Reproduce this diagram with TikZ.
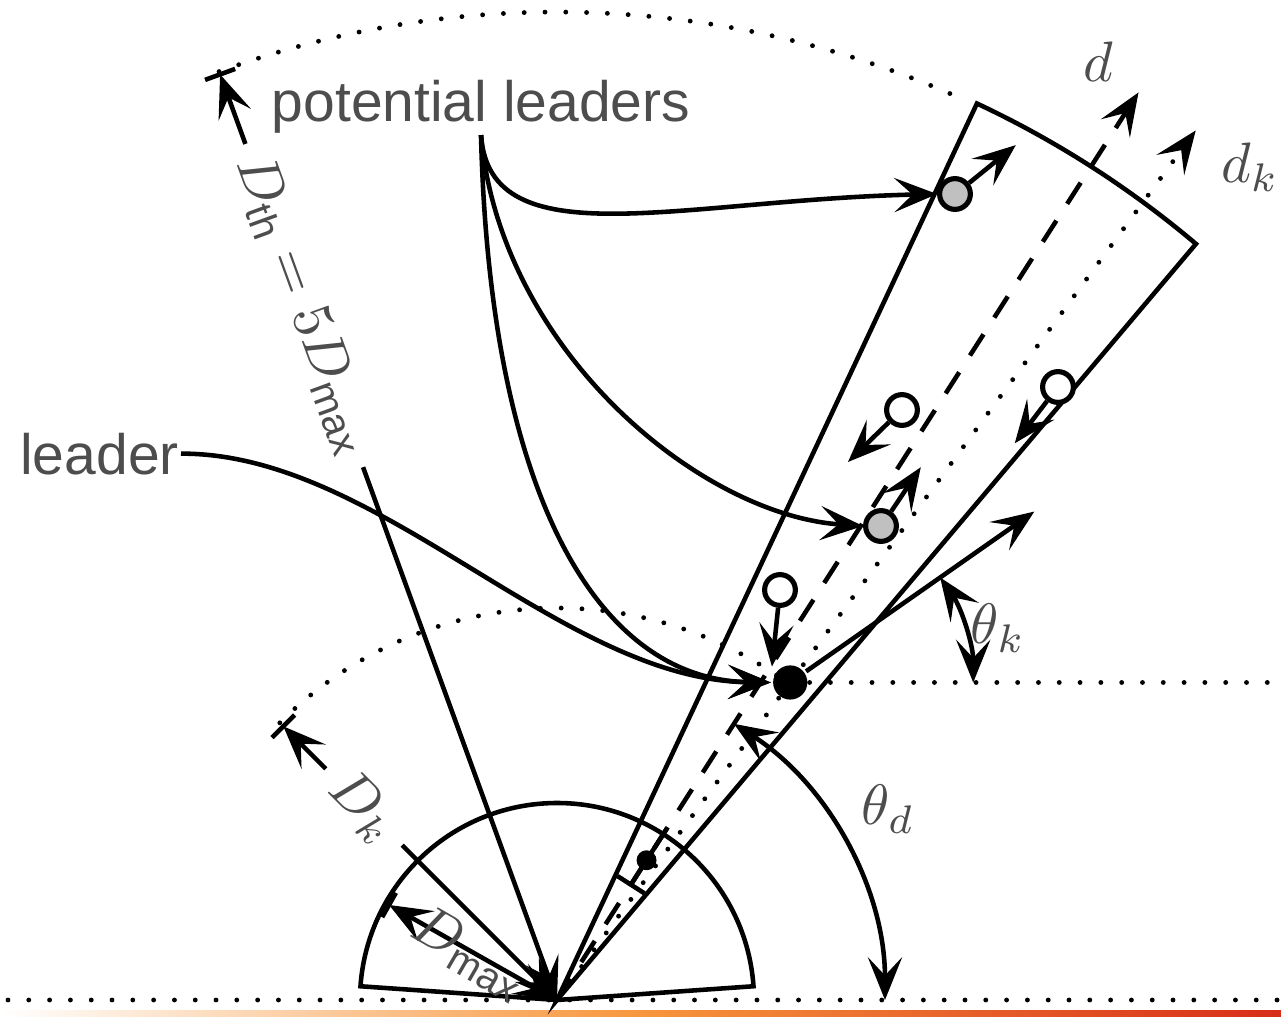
\documentclass[tikz,border=0pt]{standalone}
\usepackage{amsmath}
\usepackage{fontspec}
\setsansfont{Liberation Sans}
\usetikzlibrary{arrows.meta,calc}
\definecolor{txt}{HTML}{4D4D4D}
\definecolor{plfill}{HTML}{C0C0C0}
\begin{document}
\begin{tikzpicture}[x=0.17544pt,y=0.17544pt,line width=0.8pt,
  tip/.style={-{Stealth[length=7.5pt,width=6pt,inset=3.2pt]}},
  dbl/.style={{Stealth[length=7.5pt,width=6pt,inset=3.2pt]}-{Stealth[length=7.5pt,width=6pt,inset=3.2pt]}},
  dots/.style={line width=0.85pt,dash pattern=on 0pt off 3.65pt,line cap=round},
  dashline/.style={dash pattern=on 4.4pt off 3.5pt},
  lbl/.style={text=txt,inner sep=0pt},
  agent/.style={circle,draw,line width=0.9pt,minimum size=5.4pt,inner sep=0pt},
]
\useasboundingbox (0,0) rectangle (1281,1016);
\shade[left color=white,right color={rgb,255:red,215;green,45;blue,25},middle color={rgb,255:red,247;green,150;blue,60}] (0,0) rectangle (1281,6);
\coordinate (O) at (557,16);
\coordinate (R) at (1281,0);
% baseline
\draw[dots] (8,16) -- (1281,16);
% D_max sector
\draw (O) -- ++(4:197) arc[start angle=4,end angle=176,radius=197] -- cycle;
% cone
\draw (O) -- ++(49.8:990) arc[start angle=49.8,end angle=64.9,radius=990] -- cycle;
% D_th dotted arc
\draw[dots] ($(O)+(110:988)$) arc[start angle=110,end angle=65.5,radius=988];
% D_k dotted arc
\draw[dots] ($(O)+(135:392)$) arc[start angle=135,end angle=54,radius=392];
% axes
\coordinate (dtip) at ($(O)+(57.35:1078)$);
\coordinate (dktip) at ($(O)+(53.7:1079)$);
\draw[dashline,tip] (O) -- (dtip);
\draw[dots,tip] (O) -- (dktip);
% theta_d
\draw[dbl] ($(O)+(0:328)$) arc[start angle=0,end angle=57.35,radius=328];
% small agent near origin
\draw ($(O)+(57.35:137)$) -- ($(O)+(57.35:204)$);
\draw ($(O)+(57.35:137)+(147.35:16)$) -- ($(O)+(57.35:137)+(-32.65:16)$);
\node[circle,fill=black,minimum size=3.5pt,inner sep=0pt] (s) at ($(O)+(57.35:166)$) {};
% leader
\node[circle,fill=black,minimum size=6pt,inner sep=0pt] (L) at ($(O)+(53.7:394)$) {};
\draw[dots] (L.east) -- (L -| R);
\draw[tip] (L.35) -- ($(L)+(35:298)$);
\draw[dbl] ($(L)+(0:183)$) arc[start angle=0,end angle=35,radius=183];
% potential leaders and others
\node[agent,fill=plfill] (P1) at (955,822) {};
\node[agent,fill=plfill] (P2) at (881,490) {};
\node[agent,fill=white] (H1) at (902,606) {};
\node[agent,fill=white] (H2) at (1058,629) {};
\node[agent,fill=white] (H3) at (780,426) {};
\draw[tip] (P1.38.8) -- ($(P1)+(38.8:78)$);
\draw[tip] (P2.55.9) -- ($(P2)+(55.9:71)$);
\draw[tip] (H1.223.9) -- ($(H1)+(223.9:75)$);
\draw[tip] (H2.232.5) -- ($(H2)+(232.5:71)$);
\draw[tip] (H3.264) -- ($(H3)+(264:77)$);
% labels
\node[lbl] (dl) at (1098,954) {$d$};
\node[lbl] (dkl) at (1250,849) {$d_k$};
\node[lbl] (tk) at (998,388) {$\theta_k$};
\node[lbl] (td) at (888,207) {$\theta_d$};
% D_th dimension
\coordinate (Dth) at ($(O)+(110:985)$);
\draw[tip] ($(O)+(110:911)$) -- (Dth);
\draw ($(Dth)+(20:16)$) -- ($(Dth)+(200:16)$);
\draw[tip] ($(O)+(110:567)$) -- (O);
\node[lbl,rotate=-70] (dthl) at ($(O)+(110:739)$) {$D_{\text{\sffamily th}} = 5D_{\text{\sffamily max}}$};
% D_k dimension
\coordinate (Dk) at ($(O)+(135:387)$);
\draw[tip] ($(O)+(135:327)$) -- (Dk);
\draw ($(Dk)+(45:16)$) -- ($(Dk)+(225:16)$);
\draw[tip] ($(O)+(135:219)$) -- (O);
\node[lbl,rotate=-45] (dkdl) at ($(O)+(135:273)$) {$D_k$};
% D_max dimension
\coordinate (Dm) at ($(O)+(150.5:193)$);
\draw[dbl] (O) -- (Dm);
\draw ($(Dm)+(60.5:14)$) -- ($(Dm)+(240.5:14)$);
\node[lbl,rotate=-30] (dml) at (470,62) {$D_{\text{\sffamily max}}$};
% text labels and curves
\node[lbl,font=\sffamily,anchor=base] (pl) at (481,895) {potential leaders};
\node[lbl,font=\sffamily,anchor=base west] (ll) at (18,542) {leader};
\draw[tip] (pl.south) .. controls (490,756) and (680,816) .. (P1.west);
\draw[tip] (pl.south) .. controls (500,666) and (700,501) .. (P2.west);
\draw[tip] (pl.south) .. controls (490,516) and (600,336) .. (L.west);
\draw[tip] (ll.east) .. controls (380,563) and (560,336) .. (L.west);
\end{tikzpicture}
\end{document}
